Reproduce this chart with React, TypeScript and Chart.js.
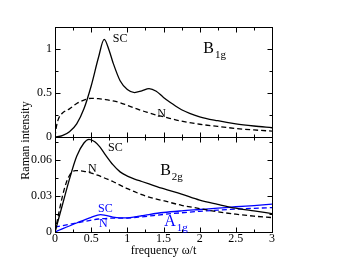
import React, { useEffect, useRef } from "react";
import { Chart, registerables } from "chart.js";

Chart.register(...registerables);

// ---- data ----
const b1gScX = [0, 0.1, 0.2, 0.3, 0.4, 0.5, 0.6, 0.68, 0.75, 0.8, 0.9, 1.0, 1.1, 1.2, 1.3, 1.4, 1.5, 1.6, 1.75, 2.0, 2.25, 2.5, 2.75, 3.0];
const b1gScY = [0, 0.015, 0.06, 0.15, 0.32, 0.58, 0.9, 1.11, 0.98, 0.85, 0.64, 0.54, 0.505, 0.525, 0.55, 0.52, 0.45, 0.39, 0.31, 0.23, 0.185, 0.15, 0.125, 0.105];

const b1gNX = [0, 0.02, 0.05, 0.1, 0.2, 0.3, 0.4, 0.5, 0.6, 0.7, 0.8, 0.9, 1.0, 1.1, 1.2, 1.3, 1.4, 1.5, 1.75, 2.0, 2.25, 2.5, 2.75, 3.0];
const b1gNY = [0, 0.12, 0.21, 0.27, 0.32, 0.38, 0.42, 0.44, 0.435, 0.425, 0.41, 0.39, 0.36, 0.33, 0.3, 0.275, 0.25, 0.23, 0.18, 0.145, 0.12, 0.097, 0.08, 0.067];

const b2gScX = [0, 0.1, 0.2, 0.3, 0.4, 0.47, 0.55, 0.62, 0.7, 0.8, 0.9, 1.0, 1.1, 1.2, 1.3, 1.5, 1.75, 2.0, 2.25, 2.5, 2.75, 3.0];
const b2gScY = [0, 0.022, 0.044, 0.063, 0.074, 0.077, 0.075, 0.0708, 0.064, 0.056, 0.05, 0.0465, 0.044, 0.042, 0.04, 0.036, 0.0315, 0.0265, 0.023, 0.0198, 0.0175, 0.0153];

const b2gNX = [0, 0.05, 0.1, 0.15, 0.2, 0.28, 0.4, 0.5, 0.6, 0.7, 0.8, 0.9, 1.0, 1.1, 1.2, 1.3, 1.5, 1.75, 2.0, 2.25, 2.5, 2.75, 3.0];
const b2gNY = [0, 0.015, 0.029, 0.04, 0.047, 0.051, 0.0505, 0.049, 0.047, 0.0445, 0.042, 0.039, 0.036, 0.0335, 0.031, 0.029, 0.026, 0.0222, 0.0195, 0.0168, 0.0148, 0.0132, 0.012];

const a1gScX = [0, 0.3, 0.5, 0.63, 0.7, 0.8, 0.9, 1.0, 1.1, 1.2, 1.3, 1.5, 1.75, 2.0, 2.25, 2.5, 2.75, 3.0];
const a1gScY = [0, 0.0075, 0.0122, 0.0145, 0.0138, 0.0123, 0.0117, 0.0118, 0.0125, 0.0135, 0.0145, 0.0162, 0.0176, 0.0187, 0.0198, 0.021, 0.022, 0.0231];

const a1gNX = [0, 0.3, 0.6, 0.8, 1.0, 1.2, 1.5, 1.75, 2.0, 2.25, 2.5, 2.75, 3.0];
const a1gNY = [0.004, 0.0075, 0.0108, 0.0115, 0.0116, 0.0126, 0.0146, 0.016, 0.0172, 0.0182, 0.019, 0.0197, 0.0203];

const xTickValues = [0, 0.5, 1, 1.5, 2, 2.5, 3];
const xTickLabels = ["0", "0.5", "1", "1.5", "2", "2.5", "3"];
const topTickValues = [0, 0.5, 1];
const topTickLabels = ["0", "0.5", "1"];
const bottomTickValues = [0, 0.03, 0.06];
const bottomTickLabels = ["0", "0.03", "0.06"];

// in-plot labels (data coordinates)
const annText = ["SC", "N", "B", "SC", "N", "B", "SC", "N", "A"];
const annSub = ["", "", "1g", "", "", "2g", "", "", "1g"];
const annX = [0.8, 1.413, 2.05, 0.734, 0.457, 1.454, 0.596, 0.609, 1.51];
const annY = [1.076, 0.223, 0.951, 0.0673, 0.0498, 0.0473, 0.0164, 0.0039, 0.0048];
const annAxis = ["yT", "yT", "yT", "yB", "yB", "yB", "yB", "yB", "yB"];
const annColor = ["#000", "#000", "#000", "#000", "#000", "#000", "#0000ff", "#0000ff", "#0000ff"];
const annSize = [12, 12, 16, 12, 12, 16, 12, 12, 16];

const SERIF = "'Liberation Serif', 'Times New Roman', 'DejaVu Serif', serif";
const BLUE = "#0000ff";

const pts = (xs: number[], ys: number[]) => xs.map((x, i) => ({ x, y: ys[i] }));

const labelFor = (values: number[], labels: string[]) => (v: any) => {
  const i = values.findIndex((t) => Math.abs(t - Number(v)) < 1e-9);
  return i >= 0 ? labels[i] : "";
};

const framePlugin = {
  id: "framePlugin",
  afterDatasetsDraw(chart: any) {
    const ctx = chart.ctx as CanvasRenderingContext2D;
    const xs = chart.scales.x;
    const panels = [
      { id: "yT", minor: 0.25, major: 0.5 },
      { id: "yB", minor: 0.015, major: 0.03 },
    ];
    ctx.save();
    ctx.strokeStyle = "#000";
    ctx.lineWidth = 1;
    const l = Math.round(xs.left) + 0.5;
    const r = Math.round(xs.right) + 0.5;
    for (const p of panels) {
      const ys = chart.scales[p.id];
      const t = Math.round(ys.top) + 0.5;
      const b = Math.round(ys.bottom) + 0.5;
      ctx.strokeRect(l, t, r - l, b - t);
      ctx.beginPath();
      for (let i = 0; i <= 12; i++) {
        const v = i * 0.25;
        const len = i % 2 === 0 ? 5 : 3;
        const px = Math.round(xs.getPixelForValue(v)) + 0.5;
        ctx.moveTo(px, b);
        ctx.lineTo(px, b - len);
        ctx.moveTo(px, t);
        ctx.lineTo(px, t + len);
      }
      const n = Math.floor(ys.max / p.minor + 1e-9);
      for (let i = 0; i <= n; i++) {
        const v = i * p.minor;
        const major = Math.abs(v / p.major - Math.round(v / p.major)) < 1e-6;
        const len = major ? 5 : 3;
        const py = Math.round(ys.getPixelForValue(v)) + 0.5;
        ctx.moveTo(l, py);
        ctx.lineTo(l + len, py);
        ctx.moveTo(r, py);
        ctx.lineTo(r - len, py);
      }
      ctx.stroke();
    }
    // annotations
    ctx.textAlign = "left";
    ctx.textBaseline = "alphabetic";
    for (let i = 0; i < annText.length; i++) {
      const px = xs.getPixelForValue(annX[i]);
      const py = chart.scales[annAxis[i]].getPixelForValue(annY[i]);
      ctx.fillStyle = annColor[i];
      ctx.font = `${annSize[i]}px ${SERIF}`;
      ctx.fillText(annText[i], px, py);
      if (annSub[i]) {
        const w = ctx.measureText(annText[i]).width;
        ctx.font = `11px ${SERIF}`;
        ctx.fillText(annSub[i], px + w + 1, py + 5);
      }
    }
    // y axis title
    const ca = chart.chartArea;
    ctx.fillStyle = "#000";
    ctx.font = `12px ${SERIF}`;
    ctx.textAlign = "center";
    ctx.textBaseline = "middle";
    ctx.translate(ca.left - 29, (ca.top + ca.bottom) / 2 + 11);
    ctx.rotate(-Math.PI / 2);
    ctx.fillText("Raman intensity", 0, 0);
    ctx.restore();
  },
};

export default function App() {
  const ref = useRef<HTMLCanvasElement | null>(null);
  useEffect(() => {
    document.body.style.margin = "0";
    const canvas = ref.current;
    if (!canvas) return;
    let chart: Chart | null = null;
    let cancelled = false;
    const build = () => {
      if (cancelled) return;
      const tickFont = { family: SERIF, size: 12 };
      chart = new Chart(canvas, {
        type: "line",
        data: {
          datasets: [
            { data: pts(b1gScX, b1gScY), yAxisID: "yT", borderColor: "#000", borderWidth: 1.3 },
            { data: pts(b1gNX, b1gNY), yAxisID: "yT", borderColor: "#000", borderWidth: 1.3, borderDash: [5, 3] },
            { data: pts(b2gScX, b2gScY), yAxisID: "yB", borderColor: "#000", borderWidth: 1.3 },
            { data: pts(b2gNX, b2gNY), yAxisID: "yB", borderColor: "#000", borderWidth: 1.3, borderDash: [5, 3] },
            { data: pts(a1gScX, a1gScY), yAxisID: "yB", borderColor: BLUE, borderWidth: 1.3 },
            { data: pts(a1gNX, a1gNY), yAxisID: "yB", borderColor: BLUE, borderWidth: 1.3, borderDash: [5, 3] },
          ] as any,
        },
        options: {
          animation: false,
          responsive: false,
          devicePixelRatio: 1,
          datasets: {
            line: { pointRadius: 0, fill: false, cubicInterpolationMode: "monotone" } as any,
          },
          layout: { padding: { top: 27, right: 82, left: 0, bottom: 0 } },
          plugins: { legend: { display: false }, tooltip: { enabled: false } },
          scales: {
            x: {
              type: "linear",
              min: 0,
              max: 3,
              grid: { display: false, drawTicks: false },
              border: { display: false },
              afterBuildTicks: (s: any) => {
                s.ticks = xTickValues.map((v) => ({ value: v }));
              },
              afterFit: (s: any) => {
                s.height = 41;
              },
              ticks: {
                font: tickFont,
                color: "#000",
                padding: 0,
                maxRotation: 0,
                autoSkip: false,
                callback: labelFor(xTickValues, xTickLabels),
              },
              title: {
                display: true,
                text: "frequency ω/t",
                font: { family: SERIF, size: 12 },
                color: "#000",
                padding: { top: 0, bottom: 15 },
              },
            },
            yB: {
              type: "linear",
              position: "left",
              stack: "s",
              stackWeight: 95,
              min: 0,
              max: 0.079,
              grid: { display: false, drawTicks: false },
              border: { display: false },
              afterBuildTicks: (s: any) => {
                s.ticks = bottomTickValues.map((v) => ({ value: v }));
              },
              afterFit: (s: any) => {
                s.width = 55;
              },
              ticks: { font: tickFont, color: "#000", padding: 3, callback: labelFor(bottomTickValues, bottomTickLabels) },
            },
            yT: {
              type: "linear",
              position: "left",
              stack: "s",
              stackWeight: 110,
              min: 0,
              max: 1.25,
              grid: { display: false, drawTicks: false },
              border: { display: false },
              afterBuildTicks: (s: any) => {
                s.ticks = topTickValues.map((v) => ({ value: v }));
              },
              afterFit: (s: any) => {
                s.width = 55;
              },
              ticks: { font: tickFont, color: "#000", padding: 3, callback: labelFor(topTickValues, topTickLabels) },
            },
          } as any,
        },
        plugins: [framePlugin],
      });
    };
    const fontsApi = (document as any).fonts;
    if (fontsApi && fontsApi.load) {
      Promise.all([
        fontsApi.load(`12px 'Liberation Serif'`, "0.5 SC ω"),
        fontsApi.load(`16px 'Liberation Serif'`, "BA"),
      ])
        .catch(() => null)
        .then(build);
    } else {
      build();
    }
    return () => {
      cancelled = true;
      if (chart) chart.destroy();
    };
  }, []);
  return (
    <div style={{ width: 354, height: 273 }}>
      <canvas ref={ref} width={354} height={273} style={{ display: "block", width: 354, height: 273 }} />
    </div>
  );
}
